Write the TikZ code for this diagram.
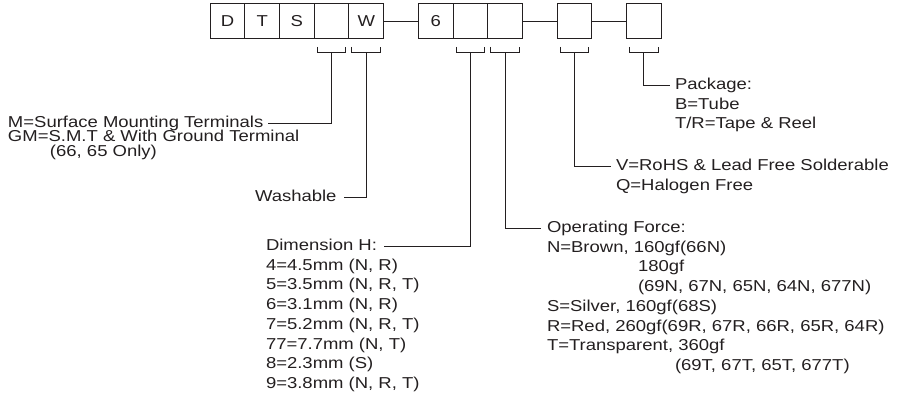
\documentclass[tikz,border=0pt]{standalone}
\usepackage{fontspec}
\setmainfont{Liberation Sans}[FakeStretch=1.17]
\usetikzlibrary{positioning,calc}
\definecolor{cInk}{HTML}{231F20}
\newcommand\lblfont{\fontsize{15.8}{19.7}\selectfont\lineskiplimit=-\maxdimen}
\newcommand\tightfont{\fontsize{15.8}{14.5}\selectfont\lineskiplimit=-\maxdimen}
% stacked lines, baseline on the first one
\newcommand\rows[1]{\vtop{\halign{##\hfil\cr#1\crcr}}}
\tikzset{
  cell/.style={draw=cInk,line width=1pt,minimum width=34.7pt,minimum height=35pt,inner sep=0pt,outer sep=0pt,font=\lblfont,text=cInk},
  lbl/.style={inner sep=0pt,outer sep=0pt,font=\lblfont,text=cInk,anchor=base west},
  wire/.style={draw=cInk,line width=1pt},
}

\begin{document}
\begin{tikzpicture}[x=1pt,y=1pt]
  \useasboundingbox (0,0) rectangle (909,-398);
  % part number cells
  \node[cell] (bD) at (227.5,-21.5) {D};
  \node[cell,right=0pt of bD] (bT) {T};
  \node[cell,right=0pt of bT] (bS) {S};
  \node[cell,right=0pt of bS] (bM) {};
  \node[cell,right=0pt of bM] (bW) {W};
  \node[cell,right=34.7pt of bW] (b6) {6};
  \node[cell,right=0pt of b6] (bH) {};
  \node[cell,right=0pt of bH] (bF) {};
  \node[cell,right=34.7pt of bF] (bV) {};
  \node[cell,right=34.7pt of bV] (bP) {};
  \draw[wire] (bW) -- (b6);
  \draw[wire] (bF) -- (bV);
  \draw[wire] (bV) -- (bP);
  % brackets
  \foreach \b in {bM,bW,bH,bF,bV,bP}{
    \draw[wire] ($(\b.south west)+(3,-8)$) -- ++(0,-6) -| ($(\b.south east)+(-3,-8)$);
    \coordinate (k\b) at ($(\b.south)+(0,-14)$);
  }
  % labels
  \node[lbl] (smt) at (8,-127.5) {M=Surface Mounting Terminals};
  \node[lbl,font=\tightfont] (smtx) at (8,-142) {\rows{GM=S.M.T \& With Ground Terminal\cr\hspace*{42pt}(66, 65 Only)}};
  \node[lbl] (wsh) at (255,-201.2) {Washable};
  \node[lbl] (dim) at (266,-250.5) {Dimension H:};
  \node[lbl] (dimx) at (266,-270.2) {\rows{4=4.5mm (N, R)\cr5=3.5mm (N, R, T)\cr6=3.1mm (N, R)\cr7=5.2mm (N, R, T)\cr77=7.7mm (N, T)\cr8=2.3mm (S)\cr9=3.8mm (N, R, T)}};
  \node[lbl] (frc) at (547,-232.5) {\rows{Operating Force:\cr N=Brown, 160gf(66N)\cr\hspace*{91pt}180gf\cr\hspace*{91pt}(69N, 67N, 65N, 64N, 677N)\cr S=Silver, 160gf(68S)\cr R=Red, 260gf(69R, 67R, 66R, 65R, 64R)\cr T=Transparent, 360gf\cr\hspace*{128pt}(69T, 67T, 65T, 677T)}};
  \node[lbl] (rohs) at (616,-171) {\rows{V=RoHS \& Lead Free Solderable\cr Q=Halogen Free}};
  \node[lbl] (pkg) at (675,-89.5) {\rows{Package:\cr B=Tube\cr T/R=Tape \& Reel}};
  % leaders
  \draw[wire] (kbM) |- ($(smt.mid east)+(5,1.5)$);
  \draw[wire] (kbW) |- ($(wsh.mid east)+(7,1.5)$);
  \draw[wire] (kbH) |- ($(dim.mid east)+(7,1.5)$);
  \draw[wire] (kbF) |- ($(frc.mid west)+(-6,1.5)$);
  \draw[wire] (kbV) |- ($(rohs.mid west)+(-5,1.5)$);
  \draw[wire] (kbP) |- ($(pkg.mid west)+(-5,1.5)$);
\end{tikzpicture}
\end{document}
